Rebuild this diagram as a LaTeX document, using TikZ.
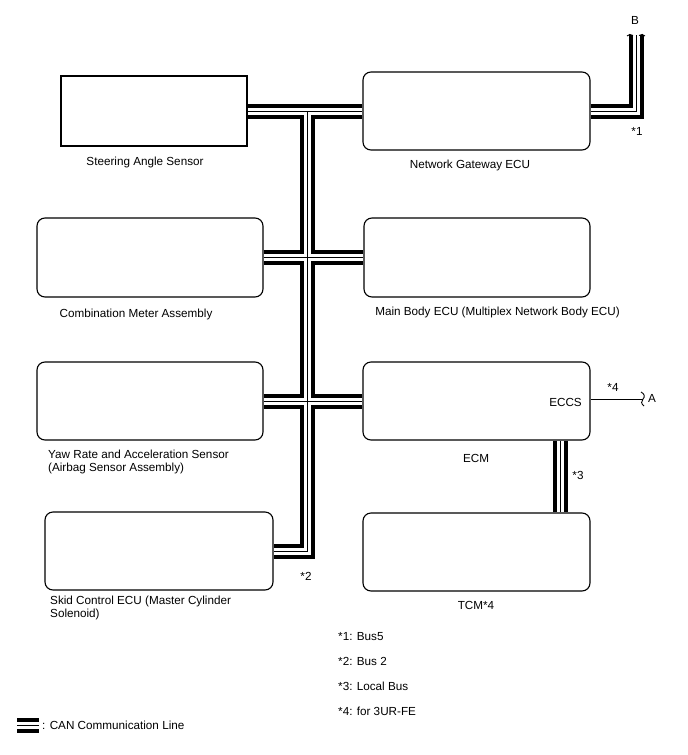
\documentclass[tikz,border=0pt]{standalone}
\usepackage{fontspec}
\setmainfont{Liberation Sans}
\usetikzlibrary{backgrounds}
\pgfdeclarelayer{bottom}
\pgfsetlayers{bottom,background,main}
\begin{document}
\begin{tikzpicture}[x=1pt,y=-1pt,
  ecu/.style={draw, line width=1.1pt, rounded corners=8pt, inner sep=0pt},
  sbox/.style={draw, line width=1.1pt, inner sep=0pt},
  lbl/.style={inner sep=0pt, font=\fontsize{11.7}{13}\selectfont},
  busO/.style={line width=15pt, black, line join=miter},
  busW/.style={line width=7pt, white, line join=miter},
  busC/.style={line width=1pt, black, line join=miter},
  thin/.style={line width=0.9pt, black}]
\begin{pgfonlayer}{bottom}
\fill[white] (0,0) rectangle (688,755);
\end{pgfonlayer}
\useasboundingbox (0,0) rectangle (688,755);

% boxes
\node[sbox, minimum width=186pt, minimum height=70pt] (steer) at (154,111) {};
\node[ecu, minimum width=227pt, minimum height=78pt] (gw) at (476.5,111) {};
\node[ecu, minimum width=226pt, minimum height=79pt] (comb) at (150,257.5) {};
\node[ecu, minimum width=226pt, minimum height=79pt] (main) at (477,257.5) {};
\node[ecu, minimum width=226pt, minimum height=78pt] (yaw) at (150,401) {};
\node[ecu, minimum width=227pt, minimum height=78pt] (ecm) at (476.5,401) {};
\node[ecu, minimum width=228pt, minimum height=78pt] (skid) at (159,551) {};
\node[ecu, minimum width=227pt, minimum height=78pt] (tcm) at (476.5,552) {};

% labels
\node[lbl] (steerl) at (145,162) {Steering Angle Sensor};
\node[lbl] (gwl) at (470,165) {Network Gateway ECU};
\node[lbl] (combl) at (136,314) {Combination Meter Assembly};
\node[lbl] (mainl) at (497.5,312) {Main Body ECU (Multiplex Network Body ECU)};
\node[lbl, align=left, anchor=north west] (yawl) at (48,450) {Yaw Rate and Acceleration Sensor\\(Airbag Sensor Assembly)};
\node[lbl] (ecml) at (476,458) {ECM};
\node[lbl, align=left, anchor=north west] (skidl) at (50,596) {Skid Control ECU (Master Cylinder\\Solenoid)};
\node[lbl] (tcml) at (476,605) {TCM*4};
\node[lbl, anchor=east] (eccs) at (582,402) {ECCS};

% coordinates
\coordinate (vtop) at (307,111);
\coordinate (btop) at (636,35);
\coordinate (lb) at (560,0);
\coordinate (aend) at (643,399);
\coordinate (lg1) at (17,725);
\coordinate (lg2) at (39,725);

% CAN buses
\begin{pgfonlayer}{background}
\foreach \s in {busO,busW,busC}{
  \draw[\s] (steer.east) -- (gw.west);
  \draw[\s] (comb.east) -- (main.west);
  \draw[\s] (yaw.east) -- (ecm.west);
  \draw[\s] (vtop) |- (skid.east);
  \draw[\s] (gw.east) -| (btop);
  \draw[\s] (ecm.south -| lb) -- (tcm.north -| lb);
  \draw[\s] (lg1) -- (lg2);
}
\end{pgfonlayer}

% break mark at B
\draw[thin] (627,36) .. controls (628.5,34) and (631,34) .. (633,35.5);
\draw[thin] (639,35.5) .. controls (641,34) and (643.5,34) .. (645,36);

% ECCS line to A
\draw[thin] (ecm.east |- aend) -- (aend);
\draw[thin] (641,392) .. controls (645,394) and (645,397) .. (643,399)
  .. controls (641,401) and (641,404) .. (644,406);

% other texts
\node[lbl] (bl) at (635,20) {B};
\node[lbl] (al) at (652,398) {A};
\node[lbl] (n1) at (637,131) {*1};
\node[lbl] (n2) at (306,576) {*2};
\node[lbl] (n3) at (578,475) {*3};
\node[lbl] (n4) at (613,387) {*4};

\node[lbl, anchor=west] (f1) at (338,637) {*1: Bus5};
\node[lbl, anchor=west] (f2) at (338,661) {*2: Bus 2};
\node[lbl, anchor=west] (f3) at (338,686) {*3: Local Bus};
\node[lbl, anchor=west] (f4) at (338,711) {*4: for 3UR-FE};
\node[lbl, anchor=west] (lgt) at (42,725) {: CAN Communication Line};
\end{tikzpicture}
\end{document}
